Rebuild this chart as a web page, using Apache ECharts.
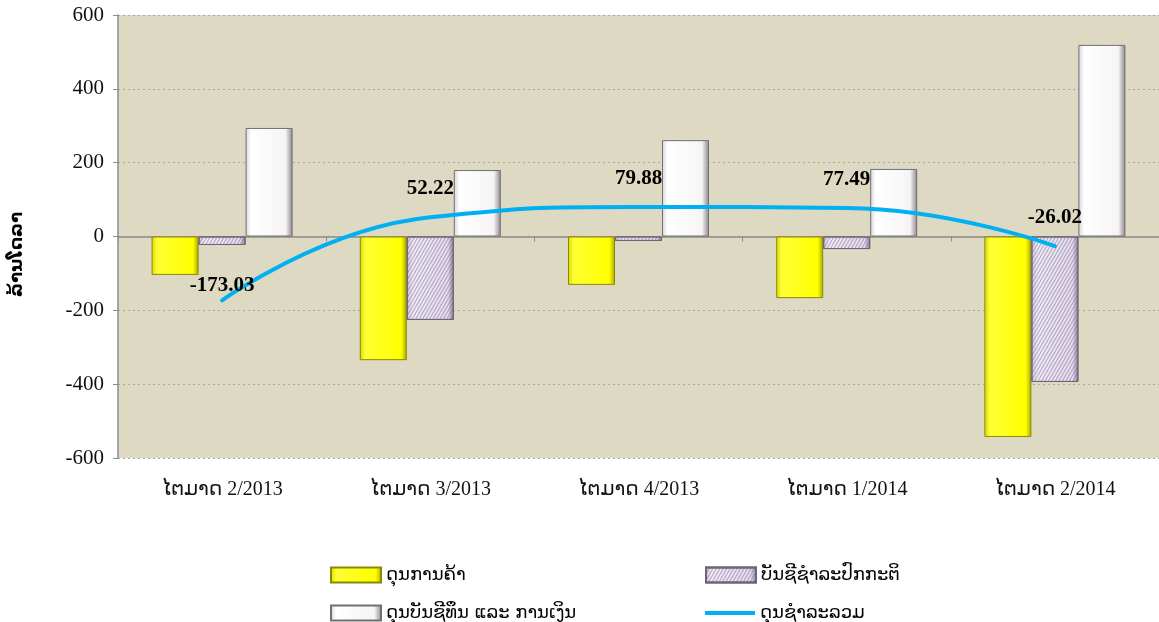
<!DOCTYPE html>
<html>
<head>
<meta charset="utf-8">
<script src="https://cdn.jsdelivr.net/npm/echarts@6/dist/echarts.min.js"></script>
<style>
  html, body { margin: 0; padding: 0; background: #fff; }
  #chart { width: 1159px; height: 622px; }
</style>
</head>
<body>
<div id="chart"></div>
<script>
// 数据
const quarters = ['ໄຕມາດ 2/2013', 'ໄຕມາດ 3/2013', 'ໄຕມາດ 4/2013', 'ໄຕມາດ 1/2014', 'ໄຕມາດ 2/2014']
const tradeBalance = [-104, -335, -131, -167, -543]
const currentAccount = [-23, -226, -12, -34, -394]
const capitalFinancial = [294, 180, 261, 183, 519]
const overallBalance = [-173.03, 52.22, 79.88, 77.49, -26.02]
const yTicks = { min: -600, max: 600, interval: 200 }

const serif = 'Liberation Serif, Times New Roman, DejaVu Sans, serif'
const laoFont = 'DejaVu Sans, Noto Sans, sans-serif'

const yellowGrad = new echarts.graphic.LinearGradient(0, 0, 1, 0, [
  { offset: 0, color: '#d9d900' }, { offset: 0.12, color: '#ffff33' },
  { offset: 0.88, color: '#ffff00' }, { offset: 1, color: '#a6a600' }
])
const purpleGrad = new echarts.graphic.LinearGradient(0, 0, 1, 0, [
  { offset: 0, color: '#cfc4dc' }, { offset: 0.12, color: '#f0eaf6' },
  { offset: 0.88, color: '#e4dcee' }, { offset: 1, color: '#8c8098' }
])
const whiteGrad = new echarts.graphic.LinearGradient(0, 0, 1, 0, [
  { offset: 0, color: '#d8d4d8' }, { offset: 0.12, color: '#ffffff' },
  { offset: 0.85, color: '#f6f4f6' }, { offset: 1, color: '#8a868a' }
])

// 图例：每项单独定位
const legendText = { fontFamily: laoFont, fontSize: 18, color: '#000' }
function legendAt(name, left, top, h) {
  return { left, top, itemWidth: 50, itemHeight: h || 15, itemGap: 0, textStyle: legendText, data: [{ name, icon: 'rect' }] }
}

const chart = echarts.init(document.getElementById('chart'))
chart.setOption({
  animation: false,
  legend: [
    legendAt('ດຸນການຄ້າ', 325, 561),
    legendAt('ບັນຊີຊຳລະປົກກະຕິ', 700, 561),
    legendAt('ດຸນບັນຊີທຶນ ແລະ ການເງິນ', 325, 599),
    legendAt('ດຸນຊຳລະລວມ', 700, 599, 4)
  ],
  grid: { left: 115, right: 0, top: 15, bottom: 164, show: true, backgroundColor: '#ddd9c3', borderWidth: 0 },
  xAxis: [
    {
      type: 'category', data: quarters,
      axisLine: { onZero: true, lineStyle: { color: '#8c8c8c', width: 1.5 } },
      axisTick: { show: true, length: 5, lineStyle: { color: '#8c8c8c' } },
      axisLabel: { show: false }
    },
    {
      type: 'category', data: quarters, position: 'bottom',
      axisLine: { show: false, onZero: false }, axisTick: { show: false },
      axisLabel: { margin: 22, fontFamily: serif, fontSize: 20, color: '#111' }
    }
  ],
  yAxis: {
    type: 'value', min: yTicks.min, max: yTicks.max, interval: yTicks.interval,
    name: 'ລ້ານໂດລາ', nameLocation: 'middle', nameGap: 92, nameRotate: 90,
    nameTextStyle: { fontFamily: laoFont, fontSize: 18, fontWeight: 'bold', color: '#000', padding: [0, 36, 0, 0] },
    axisLine: { show: true, lineStyle: { color: '#8c8c8c', width: 1.5 } },
    axisTick: { show: true, length: 5, lineStyle: { color: '#8c8c8c' } },
    axisLabel: { fontFamily: serif, fontSize: 21, color: '#111', margin: 14 },
    splitLine: { lineStyle: { color: '#a6a6a6', type: [2, 3] } }
  },
  series: [
    {
      name: 'ດຸນການຄ້າ', type: 'bar', data: tradeBalance, barWidth: 47, barGap: '0%',
      itemStyle: { color: yellowGrad, borderColor: '#8a8a00', borderWidth: 1 }
    },
    {
      name: 'ບັນຊີຊຳລະປົກກະຕິ', type: 'bar', data: currentAccount, barWidth: 47,
      itemStyle: {
        color: purpleGrad, borderColor: '#6e6478', borderWidth: 1,
        decal: { symbol: 'rect', color: 'rgba(100,80,120,0.45)', dashArrayX: [1, 0], dashArrayY: [1, 2], rotation: -Math.PI / 3 }
      }
    },
    {
      name: 'ດຸນບັນຊີທຶນ ແລະ ການເງິນ', type: 'bar', data: capitalFinancial, barWidth: 47,
      itemStyle: { color: whiteGrad, borderColor: '#707070', borderWidth: 1 }
    },
    {
      name: 'ດຸນຊຳລະລວມ', type: 'line', smooth: 0.5, symbol: 'circle', symbolSize: 2, showSymbol: true, z: 5,
      data: overallBalance.map((v, i) => i === 0 ? { value: v, label: { distance: 3 } } : v),
      lineStyle: { color: '#00b0f0', width: 4, cap: 'round' },
      itemStyle: { color: '#00b0f0' },
      label: {
        show: true, position: 'top', distance: 17,
        fontFamily: serif, fontSize: 21, fontWeight: 'bold', color: '#000',
        formatter: p => p.value.toFixed(2)
      }
    }
  ]
})
</script>
</body>
</html>
